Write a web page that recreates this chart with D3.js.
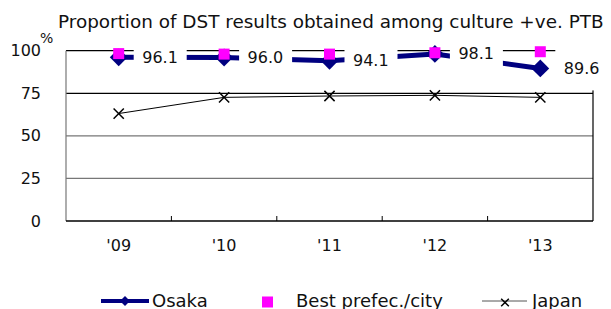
<!DOCTYPE html>
<html>
<head>
<meta charset="utf-8">
<script src="https://cdn.jsdelivr.net/npm/d3@7"></script>
<style>
  body { margin: 0; background: #fff; }
  text { font-family: "DejaVu Sans", Verdana, sans-serif; fill: #111; }
</style>
</head>
<body>
<div id="chart"></div>
<script>
// ---- data ----
const years  = ["'09", "'10", "'11", "'12", "'13"];
const osaka  = [96.1, 96.0, 94.1, 98.1, 89.6];
const best   = [98.3, 98.0, 98.0, 98.8, 99.4];
const japan  = [63.1, 72.6, 73.4, 73.8, 72.6];
const yTicks = [0, 25, 50, 75, 100];

const W = 611, H = 309;
const plot = { left: 66, right: 593, top: 50.7, bottom: 221 };

const svg = d3.select('#chart').append('svg')
  .attr('width', W).attr('height', H);

const x = d3.scaleBand().domain(years).range([plot.left, plot.right]);
const y = d3.scaleLinear().domain([0, 100]).range([plot.bottom, plot.top]);
const cx = d => x(d) + x.bandwidth() / 2;

// title
svg.append('text')
  .attr('x', 58).attr('y', 28)
  .style('font-size', '18.4px')
  .text('Proportion of DST results obtained among culture +ve. PTB');

// gridlines
svg.append('g').selectAll('line')
  .data(yTicks.filter(t => t > 0))
  .join('line')
  .attr('x1', plot.left).attr('x2', plot.right)
  .attr('y1', d => y(d)).attr('y2', d => y(d))
  .attr('stroke', d => (d === 25 || d === 50) ? '#777' : '#000')
  .attr('stroke-width', 1.2);

// left + right border
svg.append('line')
  .attr('x1', plot.left).attr('x2', plot.left)
  .attr('y1', plot.top).attr('y2', plot.bottom)
  .attr('stroke', '#777').attr('stroke-width', 1.2);
svg.append('line')
  .attr('x1', plot.right).attr('x2', plot.right)
  .attr('y1', plot.top).attr('y2', plot.bottom)
  .attr('stroke', '#000').attr('stroke-width', 1.2);

// x axis with inward ticks at category boundaries
const xAxis = svg.append('g');
xAxis.append('line')
  .attr('x1', plot.left).attr('x2', plot.right)
  .attr('y1', plot.bottom).attr('y2', plot.bottom)
  .attr('stroke', '#000').attr('stroke-width', 1.4);
xAxis.selectAll('line.tick')
  .data(years.slice(1))
  .join('line').attr('class', 'tick')
  .attr('x1', d => x(d)).attr('x2', d => x(d))
  .attr('y1', plot.bottom - 5).attr('y2', plot.bottom)
  .attr('stroke', '#000');
xAxis.selectAll('text')
  .data(years)
  .join('text')
  .attr('x', d => cx(d)).attr('y', 250.5)
  .attr('text-anchor', 'middle')
  .style('font-size', '16px')
  .text(d => d);

// y labels
svg.append('g').selectAll('text')
  .data(yTicks)
  .join('text')
  .attr('x', 41).attr('y', d => y(d) + 5.5)
  .attr('text-anchor', 'end')
  .style('font-size', '16px')
  .text(d => d);
svg.append('text')
  .attr('x', 40).attr('y', 43)
  .style('font-size', '14px')
  .text('%');

// Japan line
const line = d3.line().x((d, i) => cx(years[i])).y(d => y(d));
svg.append('path')
  .datum(japan)
  .attr('d', line)
  .attr('fill', 'none')
  .attr('stroke', '#000').attr('stroke-width', 1);
const cross = d3.symbol().type(d3.symbolX).size(70);
svg.append('g').selectAll('path')
  .data(japan)
  .join('path')
  .attr('transform', (d, i) => `translate(${cx(years[i])},${y(d)})`)
  .attr('d', cross)
  .attr('fill', 'none')
  .attr('stroke', '#000').attr('stroke-width', 1.5);

// Osaka line
svg.append('path')
  .datum(osaka)
  .attr('d', line)
  .attr('fill', 'none')
  .attr('stroke', '#000080').attr('stroke-width', 5);
svg.append('g').selectAll('rect')
  .data(osaka)
  .join('rect')
  .attr('x', -6.3).attr('y', -6.3)
  .attr('width', 12.6).attr('height', 12.6)
  .attr('transform', (d, i) => `translate(${cx(years[i])},${y(d)}) rotate(45)`)
  .attr('fill', '#000080');

// Best prefecture squares
svg.append('g').selectAll('rect')
  .data(best)
  .join('rect')
  .attr('x', (d, i) => cx(years[i]) - 5.5)
  .attr('y', d => y(d) - 5.5)
  .attr('width', 11).attr('height', 11)
  .attr('fill', '#ff00ff');

// Osaka value labels with white boxes
const lab = svg.append('g').selectAll('g')
  .data(osaka)
  .join('g')
  .attr('transform', (d, i) => `translate(${cx(years[i]) + 15},${y(d)})`);
lab.append('rect')
  .attr('x', 0).attr('y', -22)
  .attr('width', 53).attr('height', 44)
  .attr('fill', '#fff');
lab.append('text')
  .attr('x', 8.5).attr('y', 5.5)
  .style('font-size', '16px')
  .text(d => d.toFixed(1));

// legend
const lg = svg.append('g');
const ly = 301;
lg.append('line')
  .attr('x1', 101).attr('x2', 149).attr('y1', ly).attr('y2', ly)
  .attr('stroke', '#000080').attr('stroke-width', 4);
lg.append('rect')
  .attr('x', -3.5).attr('y', -3.5).attr('width', 7).attr('height', 7)
  .attr('transform', `translate(125,${ly}) rotate(45)`)
  .attr('fill', '#000080');
lg.append('text').attr('x', 152).attr('y', 306.5)
  .style('font-size', '18px').text('Osaka');
lg.append('rect')
  .attr('x', 262).attr('y', ly - 4.5).attr('width', 11).attr('height', 11)
  .attr('fill', '#ff00ff');
lg.append('text').attr('x', 296).attr('y', 306.5)
  .style('font-size', '18px').text('Best prefec./city');
lg.append('line')
  .attr('x1', 482).attr('x2', 527).attr('y1', ly).attr('y2', ly)
  .attr('stroke', '#555').attr('stroke-width', 1);
lg.append('path')
  .attr('transform', `translate(505,${ly + 1.5})`)
  .attr('d', d3.symbol().type(d3.symbolX).size(40))
  .attr('fill', 'none').attr('stroke', '#000').attr('stroke-width', 1.5);
lg.append('text').attr('x', 532).attr('y', 306.5)
  .style('font-size', '18px').text('Japan');
</script>
</body>
</html>
